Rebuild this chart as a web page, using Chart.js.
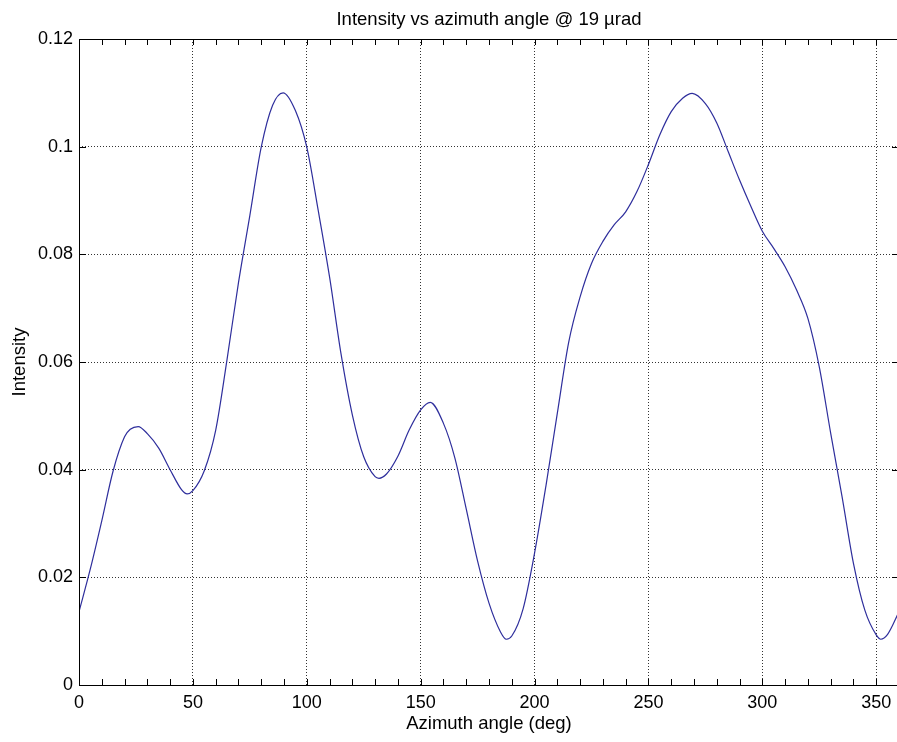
<!DOCTYPE html>
<html>
<head>
<meta charset="utf-8">
<script src="https://cdn.jsdelivr.net/npm/chart.js@4.4.1/dist/chart.umd.min.js"></script>
<style>
  html, body { margin: 0; padding: 0; background: #fff; overflow: hidden; }
  #wrap { width: 897px; height: 742px; overflow: hidden; }
</style>
</head>
<body>
<div id="wrap"><canvas id="chart" width="905" height="742"></canvas></div>
<script>
// Intensity vs azimuth angle.
const angles = [
  0, 5, 10, 15, 20, 22.5, 26, 30, 35, 40, 45, 47.5, 50, 55, 60, 65, 70, 75, 80, 85,
  89.6, 95, 100, 105, 110, 115, 120, 125, 130, 131.7, 135, 140, 145, 150, 154.2, 160,
  165, 170, 175, 180, 185, 187.6, 190, 195, 200, 205, 210, 215, 220, 225, 230, 235,
  240, 245, 250, 255, 260, 265, 269.2, 275, 280, 285, 290, 295, 300, 305, 310, 315,
  320, 325, 330, 335, 340, 345, 350, 352, 355, 360
];
const intensity = [
  0.0136, 0.0216, 0.0305, 0.0398, 0.0461, 0.0475, 0.0480, 0.0467, 0.0440, 0.0400,
  0.0363, 0.0355, 0.0361, 0.0398, 0.0473, 0.0605, 0.0747, 0.0872, 0.0999, 0.1077,
  0.1100, 0.1067, 0.0999, 0.0882, 0.0758, 0.0616, 0.0502, 0.0424, 0.0387, 0.0384,
  0.0392, 0.0425, 0.0474, 0.0511, 0.0525, 0.0486, 0.0422, 0.0327, 0.0230, 0.0152,
  0.0099, 0.0085, 0.0091, 0.0142, 0.0245, 0.0370, 0.0505, 0.0637, 0.0721, 0.0783,
  0.0824, 0.0855, 0.0879, 0.0917, 0.0967, 0.1022, 0.1065, 0.1090, 0.1099, 0.1080,
  0.1044, 0.0991, 0.0938, 0.0889, 0.0843, 0.0811, 0.0777, 0.0734, 0.0681, 0.0591,
  0.0468, 0.0350, 0.0226, 0.0139, 0.0093, 0.0085, 0.0094, 0.0136
];
const xTickValues = [0, 50, 100, 150, 200, 250, 300, 350];
const yTickValues = [0, 0.02, 0.04, 0.06, 0.08, 0.1, 0.12];

const fontFamily = '"Liberation Sans", Arial, Helvetica, sans-serif';

// MATLAB-style box with inward tick marks
const axesBox = {
  id: 'axesBox',
  afterDraw(chart) {
    const { ctx, chartArea: a, scales: { x, y } } = chart;
    ctx.save();
    ctx.strokeStyle = '#000';
    ctx.lineWidth = 1;
    ctx.beginPath();
    ctx.rect(a.left + 0.5, a.top + 0.5, a.right - a.left, a.bottom - a.top);
    for (let v = 0; v <= 360; v += 10) {
      const px = Math.round(x.getPixelForValue(v)) + 0.5;
      ctx.moveTo(px, a.bottom);
      ctx.lineTo(px, a.bottom - 6);
      ctx.moveTo(px, a.top);
      ctx.lineTo(px, a.top + 6);
    }
    yTickValues.forEach((v) => {
      const py = Math.round(y.getPixelForValue(v)) + 0.5;
      ctx.moveTo(a.left, py);
      ctx.lineTo(a.left + 7, py);
      ctx.moveTo(a.right, py);
      ctx.lineTo(a.right - 7, py);
    });
    ctx.stroke();
    ctx.restore();
  }
};

new Chart(document.getElementById('chart'), {
  type: 'line',
  data: {
    datasets: [
      {
        data: angles.map((a, i) => ({ x: a, y: intensity[i] })),
        borderColor: '#2e2e9c',
        borderWidth: 1.2,
        pointRadius: 0,
        cubicInterpolationMode: 'monotone',
        fill: false
      }
    ]
  },
  options: {
    responsive: false,
    animation: false,
    layout: { padding: { left: 0, right: 6, top: 0, bottom: 0 } },
    plugins: {
      legend: { display: false },
      tooltip: { enabled: false },
      title: { display: false }
    },
    scales: {
      // top axis only carries the title so it centres over the plot box
      top: {
        type: 'linear',
        position: 'top',
        min: 0,
        max: 360,
        afterFit(scale) { scale.height = 39; },
        ticks: { display: false },
        grid: { display: false, drawTicks: false },
        border: { display: false },
        title: {
          display: true,
          text: 'Intensity vs azimuth angle @ 19 \u00b5rad',
          color: '#000',
          font: { family: fontFamily, size: 18.5 },
          padding: { top: 8.4, bottom: 0 }
        }
      },
      x: {
        type: 'linear',
        position: 'bottom',
        min: 0,
        max: 360,
        afterFit(scale) { scale.height = 57; },
        afterBuildTicks(scale) { scale.ticks = xTickValues.map((v) => ({ value: v })); },
        ticks: {
          color: '#000',
          padding: 7,
          font: { family: fontFamily, size: 18 },
          maxRotation: 0
        },
        grid: { color: '#333', lineWidth: 1, drawTicks: false },
        border: { display: false, dash: [1, 2] },
        title: {
          display: true,
          text: 'Azimuth angle (deg)',
          color: '#000',
          font: { family: fontFamily, size: 18.5 },
          padding: { top: 0, bottom: 7 }
        }
      },
      y: {
        type: 'linear',
        min: 0,
        max: 0.12,
        afterFit(scale) { scale.width = 79; },
        afterBuildTicks(scale) { scale.ticks = yTickValues.map((v) => ({ value: v })); },
        ticks: {
          color: '#000',
          padding: 6,
          font: { family: fontFamily, size: 18 },
          callback: (v) => String(+Number(v).toFixed(2))
        },
        grid: { color: '#333', lineWidth: 1, drawTicks: false },
        border: { display: false, dash: [1, 2] },
        title: {
          display: true,
          text: 'Intensity',
          color: '#000',
          font: { family: fontFamily, size: 18.5 },
          padding: { top: 9, bottom: 0 }
        }
      }
    }
  },
  plugins: [axesBox]
});
</script>
</body>
</html>
